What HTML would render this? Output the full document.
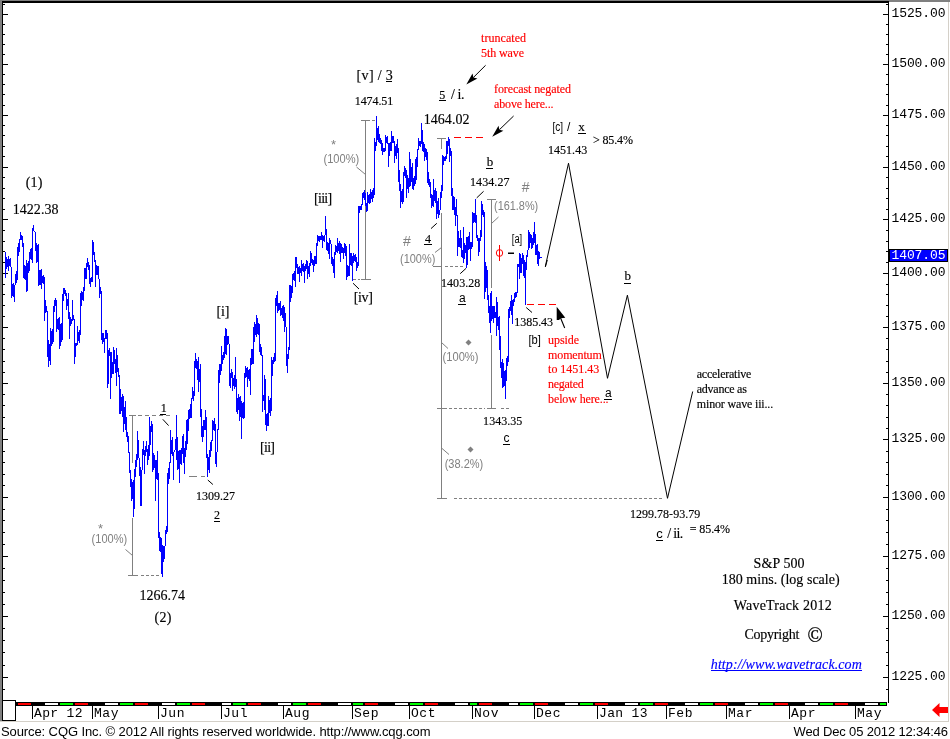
<!DOCTYPE html>
<html><head><meta charset="utf-8"><title>S&amp;P 500 - 180 mins</title>
<style>html,body{margin:0;padding:0;background:#fff}body{width:950px;height:739px;overflow:hidden}svg text{white-space:pre}</style>
</head><body>
<svg width="950" height="739" viewBox="0 0 950 739" style="display:block">
<rect x="0" y="0" width="950" height="739" fill="#fff"/>
<rect x="0" y="0" width="950" height="1" fill="#808080"/>
<rect x="0" y="1" width="889" height="2" fill="#000"/>
<rect x="889" y="1" width="61" height="1" fill="#808080"/>
<rect x="0" y="0" width="2" height="722" fill="#808080"/>
<rect x="2" y="1" width="1" height="720" fill="#000"/>
<rect x="888" y="2" width="1" height="701" fill="#000"/>
<rect x="948" y="2" width="1" height="720" fill="#d4d0c8"/>
<rect x="0" y="721" width="949" height="1" fill="#d4d0c8"/>
<rect x="2" y="700" width="14" height="1" fill="#000"/>
<rect x="15" y="700" width="1" height="21" fill="#000"/>
<rect x="2" y="720" width="14" height="1" fill="#000"/>
<rect x="16" y="702" width="871" height="4" fill="#000"/>
<rect x="3" y="4" width="2" height="1" fill="#000"/>
<rect x="886" y="4" width="2" height="1" fill="#000"/>
<rect x="3" y="14" width="5" height="1" fill="#000"/>
<rect x="883" y="14" width="5" height="1" fill="#000"/>
<text x="891.5" y="16.5" font-size="13" font-family='"Liberation Mono","Courier New",monospace' fill="#000" textLength="54" lengthAdjust="spacing" >1525.00</text>
<rect x="3" y="24" width="2" height="1" fill="#000"/>
<rect x="886" y="24" width="2" height="1" fill="#000"/>
<rect x="3" y="34" width="2" height="1" fill="#000"/>
<rect x="886" y="34" width="2" height="1" fill="#000"/>
<rect x="3" y="44" width="2" height="1" fill="#000"/>
<rect x="886" y="44" width="2" height="1" fill="#000"/>
<rect x="3" y="54" width="2" height="1" fill="#000"/>
<rect x="886" y="54" width="2" height="1" fill="#000"/>
<rect x="3" y="64" width="5" height="1" fill="#000"/>
<rect x="883" y="64" width="5" height="1" fill="#000"/>
<text x="891.5" y="66.5" font-size="13" font-family='"Liberation Mono","Courier New",monospace' fill="#000" textLength="54" lengthAdjust="spacing" >1500.00</text>
<rect x="3" y="74" width="2" height="1" fill="#000"/>
<rect x="886" y="74" width="2" height="1" fill="#000"/>
<rect x="3" y="84" width="2" height="1" fill="#000"/>
<rect x="886" y="84" width="2" height="1" fill="#000"/>
<rect x="3" y="94" width="2" height="1" fill="#000"/>
<rect x="886" y="94" width="2" height="1" fill="#000"/>
<rect x="3" y="105" width="2" height="1" fill="#000"/>
<rect x="886" y="105" width="2" height="1" fill="#000"/>
<rect x="3" y="115" width="5" height="1" fill="#000"/>
<rect x="883" y="115" width="5" height="1" fill="#000"/>
<text x="891.5" y="117.5" font-size="13" font-family='"Liberation Mono","Courier New",monospace' fill="#000" textLength="54" lengthAdjust="spacing" >1475.00</text>
<rect x="3" y="125" width="2" height="1" fill="#000"/>
<rect x="886" y="125" width="2" height="1" fill="#000"/>
<rect x="3" y="135" width="2" height="1" fill="#000"/>
<rect x="886" y="135" width="2" height="1" fill="#000"/>
<rect x="3" y="146" width="2" height="1" fill="#000"/>
<rect x="886" y="146" width="2" height="1" fill="#000"/>
<rect x="3" y="156" width="2" height="1" fill="#000"/>
<rect x="886" y="156" width="2" height="1" fill="#000"/>
<rect x="3" y="167" width="5" height="1" fill="#000"/>
<rect x="883" y="167" width="5" height="1" fill="#000"/>
<text x="891.5" y="169.5" font-size="13" font-family='"Liberation Mono","Courier New",monospace' fill="#000" textLength="54" lengthAdjust="spacing" >1450.00</text>
<rect x="3" y="177" width="2" height="1" fill="#000"/>
<rect x="886" y="177" width="2" height="1" fill="#000"/>
<rect x="3" y="188" width="2" height="1" fill="#000"/>
<rect x="886" y="188" width="2" height="1" fill="#000"/>
<rect x="3" y="198" width="2" height="1" fill="#000"/>
<rect x="886" y="198" width="2" height="1" fill="#000"/>
<rect x="3" y="209" width="2" height="1" fill="#000"/>
<rect x="886" y="209" width="2" height="1" fill="#000"/>
<rect x="3" y="219" width="5" height="1" fill="#000"/>
<rect x="883" y="219" width="5" height="1" fill="#000"/>
<text x="891.5" y="221.5" font-size="13" font-family='"Liberation Mono","Courier New",monospace' fill="#000" textLength="54" lengthAdjust="spacing" >1425.00</text>
<rect x="3" y="230" width="2" height="1" fill="#000"/>
<rect x="886" y="230" width="2" height="1" fill="#000"/>
<rect x="3" y="241" width="2" height="1" fill="#000"/>
<rect x="886" y="241" width="2" height="1" fill="#000"/>
<rect x="3" y="251" width="2" height="1" fill="#000"/>
<rect x="886" y="251" width="2" height="1" fill="#000"/>
<rect x="3" y="262" width="2" height="1" fill="#000"/>
<rect x="886" y="262" width="2" height="1" fill="#000"/>
<rect x="3" y="273" width="5" height="1" fill="#000"/>
<rect x="883" y="273" width="5" height="1" fill="#000"/>
<text x="891.5" y="275.5" font-size="13" font-family='"Liberation Mono","Courier New",monospace' fill="#000" textLength="54" lengthAdjust="spacing" >1400.00</text>
<rect x="3" y="284" width="2" height="1" fill="#000"/>
<rect x="886" y="284" width="2" height="1" fill="#000"/>
<rect x="3" y="294" width="2" height="1" fill="#000"/>
<rect x="886" y="294" width="2" height="1" fill="#000"/>
<rect x="3" y="305" width="2" height="1" fill="#000"/>
<rect x="886" y="305" width="2" height="1" fill="#000"/>
<rect x="3" y="316" width="2" height="1" fill="#000"/>
<rect x="886" y="316" width="2" height="1" fill="#000"/>
<rect x="3" y="327" width="5" height="1" fill="#000"/>
<rect x="883" y="327" width="5" height="1" fill="#000"/>
<text x="891.5" y="329.5" font-size="13" font-family='"Liberation Mono","Courier New",monospace' fill="#000" textLength="54" lengthAdjust="spacing" >1375.00</text>
<rect x="3" y="338" width="2" height="1" fill="#000"/>
<rect x="886" y="338" width="2" height="1" fill="#000"/>
<rect x="3" y="349" width="2" height="1" fill="#000"/>
<rect x="886" y="349" width="2" height="1" fill="#000"/>
<rect x="3" y="361" width="2" height="1" fill="#000"/>
<rect x="886" y="361" width="2" height="1" fill="#000"/>
<rect x="3" y="372" width="2" height="1" fill="#000"/>
<rect x="886" y="372" width="2" height="1" fill="#000"/>
<rect x="3" y="383" width="5" height="1" fill="#000"/>
<rect x="883" y="383" width="5" height="1" fill="#000"/>
<text x="891.5" y="385.5" font-size="13" font-family='"Liberation Mono","Courier New",monospace' fill="#000" textLength="54" lengthAdjust="spacing" >1350.00</text>
<rect x="3" y="394" width="2" height="1" fill="#000"/>
<rect x="886" y="394" width="2" height="1" fill="#000"/>
<rect x="3" y="405" width="2" height="1" fill="#000"/>
<rect x="886" y="405" width="2" height="1" fill="#000"/>
<rect x="3" y="417" width="2" height="1" fill="#000"/>
<rect x="886" y="417" width="2" height="1" fill="#000"/>
<rect x="3" y="428" width="2" height="1" fill="#000"/>
<rect x="886" y="428" width="2" height="1" fill="#000"/>
<rect x="3" y="439" width="5" height="1" fill="#000"/>
<rect x="883" y="439" width="5" height="1" fill="#000"/>
<text x="891.5" y="441.5" font-size="13" font-family='"Liberation Mono","Courier New",monospace' fill="#000" textLength="54" lengthAdjust="spacing" >1325.00</text>
<rect x="3" y="451" width="2" height="1" fill="#000"/>
<rect x="886" y="451" width="2" height="1" fill="#000"/>
<rect x="3" y="462" width="2" height="1" fill="#000"/>
<rect x="886" y="462" width="2" height="1" fill="#000"/>
<rect x="3" y="474" width="2" height="1" fill="#000"/>
<rect x="886" y="474" width="2" height="1" fill="#000"/>
<rect x="3" y="485" width="2" height="1" fill="#000"/>
<rect x="886" y="485" width="2" height="1" fill="#000"/>
<rect x="3" y="497" width="5" height="1" fill="#000"/>
<rect x="883" y="497" width="5" height="1" fill="#000"/>
<text x="891.5" y="499.5" font-size="13" font-family='"Liberation Mono","Courier New",monospace' fill="#000" textLength="54" lengthAdjust="spacing" >1300.00</text>
<rect x="3" y="509" width="2" height="1" fill="#000"/>
<rect x="886" y="509" width="2" height="1" fill="#000"/>
<rect x="3" y="520" width="2" height="1" fill="#000"/>
<rect x="886" y="520" width="2" height="1" fill="#000"/>
<rect x="3" y="532" width="2" height="1" fill="#000"/>
<rect x="886" y="532" width="2" height="1" fill="#000"/>
<rect x="3" y="544" width="2" height="1" fill="#000"/>
<rect x="886" y="544" width="2" height="1" fill="#000"/>
<rect x="3" y="556" width="5" height="1" fill="#000"/>
<rect x="883" y="556" width="5" height="1" fill="#000"/>
<text x="891.5" y="558.5" font-size="13" font-family='"Liberation Mono","Courier New",monospace' fill="#000" textLength="54" lengthAdjust="spacing" >1275.00</text>
<rect x="3" y="568" width="2" height="1" fill="#000"/>
<rect x="886" y="568" width="2" height="1" fill="#000"/>
<rect x="3" y="580" width="2" height="1" fill="#000"/>
<rect x="886" y="580" width="2" height="1" fill="#000"/>
<rect x="3" y="592" width="2" height="1" fill="#000"/>
<rect x="886" y="592" width="2" height="1" fill="#000"/>
<rect x="3" y="604" width="2" height="1" fill="#000"/>
<rect x="886" y="604" width="2" height="1" fill="#000"/>
<rect x="3" y="616" width="5" height="1" fill="#000"/>
<rect x="883" y="616" width="5" height="1" fill="#000"/>
<text x="891.5" y="618.5" font-size="13" font-family='"Liberation Mono","Courier New",monospace' fill="#000" textLength="54" lengthAdjust="spacing" >1250.00</text>
<rect x="3" y="628" width="2" height="1" fill="#000"/>
<rect x="886" y="628" width="2" height="1" fill="#000"/>
<rect x="3" y="640" width="2" height="1" fill="#000"/>
<rect x="886" y="640" width="2" height="1" fill="#000"/>
<rect x="3" y="652" width="2" height="1" fill="#000"/>
<rect x="886" y="652" width="2" height="1" fill="#000"/>
<rect x="3" y="665" width="2" height="1" fill="#000"/>
<rect x="886" y="665" width="2" height="1" fill="#000"/>
<rect x="3" y="677" width="5" height="1" fill="#000"/>
<rect x="883" y="677" width="5" height="1" fill="#000"/>
<text x="891.5" y="679.5" font-size="13" font-family='"Liberation Mono","Courier New",monospace' fill="#000" textLength="54" lengthAdjust="spacing" >1225.00</text>
<rect x="3" y="689" width="2" height="1" fill="#000"/>
<rect x="886" y="689" width="2" height="1" fill="#000"/>
<rect x="889" y="249" width="59" height="13" fill="#000"/>
<rect x="890" y="250" width="57" height="11" fill="#0000ff"/>
<text x="891.5" y="259" font-size="13" font-family='"Liberation Mono","Courier New",monospace' fill="#fff" textLength="54" lengthAdjust="spacing" >1407.05</text>
<rect x="18" y="703" width="13" height="2" fill="#ff0000"/>
<rect x="45" y="703" width="13" height="2" fill="#ffffff"/>
<rect x="60" y="703" width="13" height="2" fill="#00ff00"/>
<rect x="75" y="703" width="13" height="2" fill="#ff0000"/>
<rect x="105" y="703" width="13" height="2" fill="#ffffff"/>
<rect x="120" y="703" width="13" height="2" fill="#00ff00"/>
<rect x="135" y="703" width="13" height="2" fill="#ff0000"/>
<rect x="162" y="703" width="13" height="2" fill="#ffffff"/>
<rect x="177" y="703" width="13" height="2" fill="#00ff00"/>
<rect x="192" y="703" width="13" height="2" fill="#ff0000"/>
<rect x="222" y="703" width="9" height="2" fill="#ffffff"/>
<rect x="233" y="703" width="13" height="2" fill="#00ff00"/>
<rect x="248" y="703" width="13" height="2" fill="#ff0000"/>
<rect x="278" y="703" width="13" height="2" fill="#ffffff"/>
<rect x="293" y="703" width="13" height="2" fill="#00ff00"/>
<rect x="308" y="703" width="13" height="2" fill="#ff0000"/>
<rect x="338" y="703" width="13" height="2" fill="#ffffff"/>
<rect x="353" y="703" width="10" height="2" fill="#00ff00"/>
<rect x="365" y="703" width="13" height="2" fill="#ff0000"/>
<rect x="395" y="703" width="13" height="2" fill="#ffffff"/>
<rect x="410" y="703" width="13" height="2" fill="#00ff00"/>
<rect x="425" y="703" width="13" height="2" fill="#ff0000"/>
<rect x="455" y="703" width="13" height="2" fill="#ffffff"/>
<rect x="470" y="703" width="7" height="2" fill="#00ff00"/>
<rect x="479" y="703" width="13" height="2" fill="#ff0000"/>
<rect x="509" y="703" width="9" height="2" fill="#ffffff"/>
<rect x="520" y="703" width="13" height="2" fill="#00ff00"/>
<rect x="535" y="703" width="13" height="2" fill="#ff0000"/>
<rect x="565" y="703" width="13" height="2" fill="#ffffff"/>
<rect x="580" y="703" width="13" height="2" fill="#00ff00"/>
<rect x="595" y="703" width="13" height="2" fill="#ff0000"/>
<rect x="625" y="703" width="13" height="2" fill="#ffffff"/>
<rect x="640" y="703" width="13" height="2" fill="#00ff00"/>
<rect x="655" y="703" width="13" height="2" fill="#ff0000"/>
<rect x="685" y="703" width="13" height="2" fill="#ffffff"/>
<rect x="700" y="703" width="13" height="2" fill="#00ff00"/>
<rect x="715" y="703" width="13" height="2" fill="#ff0000"/>
<rect x="745" y="703" width="13" height="2" fill="#ffffff"/>
<rect x="760" y="703" width="13" height="2" fill="#00ff00"/>
<rect x="775" y="703" width="13" height="2" fill="#ff0000"/>
<rect x="805" y="703" width="13" height="2" fill="#ffffff"/>
<rect x="820" y="703" width="13" height="2" fill="#00ff00"/>
<rect x="835" y="703" width="13" height="2" fill="#ff0000"/>
<rect x="865" y="703" width="13" height="2" fill="#ffffff"/>
<rect x="880" y="703" width="6" height="2" fill="#00ff00"/>
<rect x="32" y="706" width="1" height="13" fill="#000"/>
<text x="34" y="717" font-size="13" font-family='"Liberation Mono","Courier New",monospace' fill="#000" textLength="48.5" lengthAdjust="spacing" >Apr 12</text>
<rect x="92" y="706" width="1" height="13" fill="#000"/>
<text x="94" y="717" font-size="13" font-family='"Liberation Mono","Courier New",monospace' fill="#000" textLength="24.5" lengthAdjust="spacing" >May</text>
<rect x="158" y="706" width="1" height="13" fill="#000"/>
<text x="160" y="717" font-size="13" font-family='"Liberation Mono","Courier New",monospace' fill="#000" textLength="24.5" lengthAdjust="spacing" >Jun</text>
<rect x="221" y="706" width="1" height="13" fill="#000"/>
<text x="223" y="717" font-size="13" font-family='"Liberation Mono","Courier New",monospace' fill="#000" textLength="24.5" lengthAdjust="spacing" >Jul</text>
<rect x="283" y="706" width="1" height="13" fill="#000"/>
<text x="285" y="717" font-size="13" font-family='"Liberation Mono","Courier New",monospace' fill="#000" textLength="24.5" lengthAdjust="spacing" >Aug</text>
<rect x="352" y="706" width="1" height="13" fill="#000"/>
<text x="354" y="717" font-size="13" font-family='"Liberation Mono","Courier New",monospace' fill="#000" textLength="24.5" lengthAdjust="spacing" >Sep</text>
<rect x="409" y="706" width="1" height="13" fill="#000"/>
<text x="411" y="717" font-size="13" font-family='"Liberation Mono","Courier New",monospace' fill="#000" textLength="24.5" lengthAdjust="spacing" >Oct</text>
<rect x="472" y="706" width="1" height="13" fill="#000"/>
<text x="474" y="717" font-size="13" font-family='"Liberation Mono","Courier New",monospace' fill="#000" textLength="24.5" lengthAdjust="spacing" >Nov</text>
<rect x="534" y="706" width="1" height="13" fill="#000"/>
<text x="536" y="717" font-size="13" font-family='"Liberation Mono","Courier New",monospace' fill="#000" textLength="24.5" lengthAdjust="spacing" >Dec</text>
<rect x="597" y="706" width="1" height="13" fill="#000"/>
<text x="599" y="717" font-size="13" font-family='"Liberation Mono","Courier New",monospace' fill="#000" textLength="48.5" lengthAdjust="spacing" >Jan 13</text>
<rect x="666" y="706" width="1" height="13" fill="#000"/>
<text x="668" y="717" font-size="13" font-family='"Liberation Mono","Courier New",monospace' fill="#000" textLength="24.5" lengthAdjust="spacing" >Feb</text>
<rect x="726" y="706" width="1" height="13" fill="#000"/>
<text x="728" y="717" font-size="13" font-family='"Liberation Mono","Courier New",monospace' fill="#000" textLength="24.5" lengthAdjust="spacing" >Mar</text>
<rect x="789" y="706" width="1" height="13" fill="#000"/>
<text x="791" y="717" font-size="13" font-family='"Liberation Mono","Courier New",monospace' fill="#000" textLength="24.5" lengthAdjust="spacing" >Apr</text>
<rect x="855" y="706" width="1" height="13" fill="#000"/>
<text x="857" y="717" font-size="13" font-family='"Liberation Mono","Courier New",monospace' fill="#000" textLength="24.5" lengthAdjust="spacing" >May</text>
<polygon points="932,710 939.5,703 939.5,707 948,707 948,713 939.5,713 939.5,717" fill="#ff0000"/>
<text x="1" y="736" font-size="13" font-family='"Liberation Sans",Arial,sans-serif' fill="#000" textLength="429.5" lengthAdjust="spacing" >Source: CQG Inc. © 2012 All rights reserved worldwide. http://www.cqg.com</text>
<text x="793.5" y="736" font-size="13" font-family='"Liberation Sans",Arial,sans-serif' fill="#000" textLength="154.5" lengthAdjust="spacing" >Wed Dec 05 2012 12:34:46</text>
<rect x="129" y="415" width="7" height="1" fill="#808080"/>
<rect x="132" y="415" width="1" height="48" fill="#808080"/>
<rect x="138" y="415" width="4" height="1" fill="#808080"/>
<rect x="145" y="415" width="4" height="1" fill="#808080"/>
<rect x="152" y="415" width="4" height="1" fill="#808080"/>
<rect x="159" y="415" width="4" height="1" fill="#808080"/>
<rect x="166" y="415" width="4" height="1" fill="#808080"/>
<rect x="132" y="518" width="1" height="58" fill="#808080"/>
<rect x="128" y="575" width="10" height="1" fill="#808080"/>
<rect x="141" y="575" width="3" height="1" fill="#808080"/>
<rect x="146" y="575" width="3" height="1" fill="#808080"/>
<rect x="151" y="575" width="3" height="1" fill="#808080"/>
<rect x="156" y="575" width="3" height="1" fill="#808080"/>
<line x1="125.5" y1="549.5" x2="132.5" y2="555.5" stroke="#808080" stroke-width="1" />
<rect x="189" y="476" width="8" height="1" fill="#808080"/>
<rect x="201" y="476" width="4" height="1" fill="#808080"/>
<rect x="361" y="120" width="9" height="1" fill="#808080"/>
<rect x="372" y="120" width="3" height="1" fill="#808080"/>
<rect x="365" y="120" width="1" height="160" fill="#808080"/>
<line x1="356.5" y1="167" x2="365.5" y2="174.5" stroke="#808080" stroke-width="1" />
<rect x="353" y="279" width="3" height="1" fill="#808080"/>
<rect x="358" y="279" width="2" height="1" fill="#808080"/>
<rect x="361" y="279" width="10" height="1" fill="#808080"/>
<rect x="437" y="138" width="9" height="1" fill="#808080"/>
<rect x="441" y="138" width="1" height="11" fill="#808080"/>
<rect x="441" y="213" width="1" height="286" fill="#808080"/>
<rect x="437" y="498" width="10" height="1" fill="#808080"/>
<rect x="454" y="498" width="3" height="1" fill="#808080"/>
<rect x="459" y="498" width="3" height="1" fill="#808080"/>
<rect x="464" y="498" width="3" height="1" fill="#808080"/>
<rect x="469" y="498" width="3" height="1" fill="#808080"/>
<rect x="474" y="498" width="3" height="1" fill="#808080"/>
<rect x="479" y="498" width="3" height="1" fill="#808080"/>
<rect x="484" y="498" width="3" height="1" fill="#808080"/>
<rect x="489" y="498" width="3" height="1" fill="#808080"/>
<rect x="494" y="498" width="3" height="1" fill="#808080"/>
<rect x="499" y="498" width="3" height="1" fill="#808080"/>
<rect x="504" y="498" width="3" height="1" fill="#808080"/>
<rect x="509" y="498" width="3" height="1" fill="#808080"/>
<rect x="514" y="498" width="3" height="1" fill="#808080"/>
<rect x="519" y="498" width="3" height="1" fill="#808080"/>
<rect x="524" y="498" width="3" height="1" fill="#808080"/>
<rect x="529" y="498" width="3" height="1" fill="#808080"/>
<rect x="534" y="498" width="3" height="1" fill="#808080"/>
<rect x="539" y="498" width="3" height="1" fill="#808080"/>
<rect x="544" y="498" width="3" height="1" fill="#808080"/>
<rect x="549" y="498" width="3" height="1" fill="#808080"/>
<rect x="554" y="498" width="3" height="1" fill="#808080"/>
<rect x="559" y="498" width="3" height="1" fill="#808080"/>
<rect x="564" y="498" width="3" height="1" fill="#808080"/>
<rect x="569" y="498" width="3" height="1" fill="#808080"/>
<rect x="574" y="498" width="3" height="1" fill="#808080"/>
<rect x="579" y="498" width="3" height="1" fill="#808080"/>
<rect x="584" y="498" width="3" height="1" fill="#808080"/>
<rect x="589" y="498" width="3" height="1" fill="#808080"/>
<rect x="594" y="498" width="3" height="1" fill="#808080"/>
<rect x="599" y="498" width="3" height="1" fill="#808080"/>
<rect x="604" y="498" width="3" height="1" fill="#808080"/>
<rect x="609" y="498" width="3" height="1" fill="#808080"/>
<rect x="614" y="498" width="3" height="1" fill="#808080"/>
<rect x="619" y="498" width="3" height="1" fill="#808080"/>
<rect x="624" y="498" width="3" height="1" fill="#808080"/>
<rect x="629" y="498" width="3" height="1" fill="#808080"/>
<rect x="634" y="498" width="3" height="1" fill="#808080"/>
<rect x="639" y="498" width="3" height="1" fill="#808080"/>
<rect x="644" y="498" width="3" height="1" fill="#808080"/>
<rect x="649" y="498" width="3" height="1" fill="#808080"/>
<rect x="654" y="498" width="3" height="1" fill="#808080"/>
<rect x="659" y="498" width="3" height="1" fill="#808080"/>
<rect x="433" y="266" width="9" height="1" fill="#808080"/>
<rect x="445" y="266" width="3" height="1" fill="#808080"/>
<rect x="450" y="266" width="3" height="1" fill="#808080"/>
<rect x="455" y="266" width="3" height="1" fill="#808080"/>
<rect x="460" y="266" width="3" height="1" fill="#808080"/>
<line x1="435" y1="252.5" x2="441.5" y2="247.5" stroke="#808080" stroke-width="1" />
<line x1="441.5" y1="342.5" x2="448" y2="348.5" stroke="#808080" stroke-width="1" />
<line x1="441.5" y1="448" x2="449" y2="454.5" stroke="#808080" stroke-width="1" />
<rect x="437" y="408" width="10" height="1" fill="#808080"/>
<rect x="449" y="408" width="3" height="1" fill="#808080"/>
<rect x="454" y="408" width="3" height="1" fill="#808080"/>
<rect x="459" y="408" width="3" height="1" fill="#808080"/>
<rect x="464" y="408" width="3" height="1" fill="#808080"/>
<rect x="469" y="408" width="3" height="1" fill="#808080"/>
<rect x="474" y="408" width="3" height="1" fill="#808080"/>
<rect x="479" y="408" width="3" height="1" fill="#808080"/>
<rect x="484" y="408" width="1" height="1" fill="#808080"/>
<rect x="487" y="199" width="9" height="1" fill="#808080"/>
<rect x="491" y="199" width="1" height="89" fill="#808080"/>
<rect x="491" y="335" width="1" height="74" fill="#808080"/>
<rect x="487" y="408" width="9" height="1" fill="#808080"/>
<rect x="501" y="408" width="3" height="1" fill="#808080"/>
<rect x="506" y="408" width="3" height="1" fill="#808080"/>
<line x1="498.5" y1="217" x2="491.5" y2="223.5" stroke="#808080" stroke-width="1" />
<polygon points="465.5,342.5 468.5,339.5 471.5,342.5 468.5,345.5" fill="#808080"/>
<polygon points="467.5,449.5 470.5,446.5 473.5,449.5 470.5,452.5" fill="#808080"/>
<text x="331" y="148.5" font-size="13" font-family='"Liberation Sans",Arial,sans-serif' fill="#808080" >*</text>
<text x="323.5" y="163.3" font-size="12" font-family='"Liberation Sans",Arial,sans-serif' fill="#808080" textLength="35.8" lengthAdjust="spacingAndGlyphs" >(100%)</text>
<text x="98" y="532.5" font-size="13" font-family='"Liberation Sans",Arial,sans-serif' fill="#808080" >*</text>
<text x="91.6" y="542.5" font-size="12" font-family='"Liberation Sans",Arial,sans-serif' fill="#808080" textLength="35.6" lengthAdjust="spacingAndGlyphs" >(100%)</text>
<text x="403" y="246.3" font-size="14" font-family='"Liberation Sans",Arial,sans-serif' fill="#808080" >#</text>
<text x="400" y="262.5" font-size="12" font-family='"Liberation Sans",Arial,sans-serif' fill="#808080" textLength="35.3" lengthAdjust="spacingAndGlyphs" >(100%)</text>
<text x="521.8" y="191.8" font-size="14" font-family='"Liberation Sans",Arial,sans-serif' fill="#808080" >#</text>
<text x="494" y="210" font-size="12" font-family='"Liberation Sans",Arial,sans-serif' fill="#808080" textLength="44.2" lengthAdjust="spacingAndGlyphs" >(161.8%)</text>
<text x="442.6" y="360.5" font-size="12" font-family='"Liberation Sans",Arial,sans-serif' fill="#808080" textLength="35.8" lengthAdjust="spacingAndGlyphs" >(100%)</text>
<text x="444.7" y="467.5" font-size="12" font-family='"Liberation Sans",Arial,sans-serif' fill="#808080" textLength="38.6" lengthAdjust="spacingAndGlyphs" >(38.2%)</text>
<path d="M5 252v26h1v-26zM6 257v12h1v-12zM7 259v8h1v-8zM8 256v15h1v-15zM9 259v7h1v-7zM10 258v9h1v-9zM11 267v31h1v-31zM12 284v12h1v-12zM13 283v14h1v-14zM14 285v17h1v-17zM15 274v11h1v-11zM16 271v12h1v-12zM17 247v33h1v-33zM18 243v13h1v-13zM19 239v13h1v-13zM20 232v8h1v-8zM21 235v5h1v-5zM22 236v11h1v-11zM23 243v35h1v-35zM24 265v14h1v-14zM25 266v14h1v-14zM26 260v32h1v-32zM27 263v28h1v-28zM28 261v12h1v-12zM29 252v19h1v-19zM30 249v10h1v-10zM31 248v12h1v-12zM32 228v35h1v-35zM33 225v6h1v-6zM34 231v1h1v-1zM35 232v19h1v-19zM36 243v20h1v-20zM37 245v17h1v-17zM38 244v42h1v-42zM39 270v15h1v-15zM40 270v15h1v-15zM41 269v20h1v-20zM42 276v7h1v-7zM43 275v9h1v-9zM44 277v44h1v-44zM45 300v13h1v-13zM46 306v6h1v-6zM47 311v46h1v-46zM48 340v27h1v-27zM49 344v17h1v-17zM50 328v37h1v-37zM51 331v15h1v-15zM52 329v15h1v-15zM53 306v36h1v-36zM54 300v12h1v-12zM55 298v8h1v-8zM56 300v32h1v-32zM57 319v10h1v-10zM58 318v12h1v-12zM59 317v32h1v-32zM60 324v22h1v-22zM61 323v19h1v-19zM62 294v46h1v-46zM63 288v13h1v-13zM64 288v6h1v-6zM65 290v6h1v-6zM66 293v17h1v-17zM67 299v7h1v-7zM68 293v26h1v-26zM69 312v27h1v-27zM70 317v9h1v-9zM71 319v5h1v-5zM72 300v21h1v-21zM73 315v5h1v-5zM74 319v45h1v-45zM75 343v14h1v-14zM76 343v3h1v-3zM77 326v19h1v-19zM78 332v9h1v-9zM79 330v13h1v-13zM80 293v42h1v-42zM81 291v15h1v-15zM82 292v8h1v-8zM83 287v14h1v-14zM84 268v23h1v-23zM85 268v11h1v-11zM86 263v16h1v-16zM87 258v9h1v-9zM88 262v8h1v-8zM89 265v19h1v-19zM90 278v9h1v-9zM91 277v5h1v-5zM92 240v42h1v-42zM93 242v13h1v-13zM94 252v10h1v-10zM95 260v27h1v-27zM96 265v10h1v-10zM97 266v9h1v-9zM98 266v13h1v-13zM99 279v19h1v-19zM100 287v7h1v-7zM101 291v49h1v-49zM102 333v11h1v-11zM103 333v9h1v-9zM104 338v15h1v-15zM105 330v9h1v-9zM106 330v9h1v-9zM107 333v55h1v-55zM108 350v34h1v-34zM109 348v8h1v-8zM110 352v47h1v-47zM111 352v26h1v-26zM112 362v12h1v-12zM113 347v27h1v-27zM114 350v14h1v-14zM115 359v14h1v-14zM116 348v38h1v-38zM117 355v17h1v-17zM118 368v9h1v-9zM119 375v39h1v-39zM120 389v25h1v-25zM121 397v14h1v-14zM122 394v23h1v-23zM123 396v36h1v-36zM124 407v17h1v-17zM125 401v29h1v-29zM126 417v20h1v-20zM127 432v10h1v-10zM128 436v17h1v-17zM129 452v21h1v-21zM130 470v17h1v-17zM131 479v22h1v-22zM132 482v17h1v-17zM133 480v37h1v-37zM134 469v40h1v-40zM135 460v17h1v-17zM136 454v13h1v-13zM137 431v29h1v-29zM138 440v18h1v-18zM139 458v18h1v-18zM140 467v39h1v-39zM141 470v36h1v-36zM142 449v21h1v-21zM143 441v14h1v-14zM144 450v24h1v-24zM145 446v10h1v-10zM146 441v11h1v-11zM147 449v16h1v-16zM148 445v15h1v-15zM149 417v39h1v-39zM150 426v19h1v-19zM151 421v11h1v-11zM152 424v48h1v-48zM153 453v17h1v-17zM154 455v13h1v-13zM155 460v41h1v-41zM156 460v19h1v-19zM157 451v29h1v-29zM158 473v65h1v-65zM159 532v19h1v-19zM160 537v15h1v-15zM161 538v36h1v-36zM162 545v32h1v-32zM163 546v16h1v-16zM164 546v13h1v-13zM165 530v16h1v-16zM166 526v8h1v-8zM167 473v59h1v-59zM168 468v16h1v-16zM169 462v17h1v-17zM170 430v33h1v-33zM171 440v14h1v-14zM172 437v19h1v-19zM173 452v28h1v-28zM174 450v2h1v-2zM175 439v11h1v-11zM176 415v45h1v-45zM177 437v33h1v-33zM178 451v18h1v-18zM179 450v33h1v-33zM180 450v14h1v-14zM181 448v17h1v-17zM182 436v18h1v-18zM183 434v29h1v-29zM184 448v26h1v-26zM185 441v16h1v-16zM186 420v30h1v-30zM187 419v25h1v-25zM188 410v21h1v-21zM189 409v10h1v-10zM190 404v14h1v-14zM191 398v20h1v-20zM192 387v12h1v-12zM193 391v10h1v-10zM194 361v35h1v-35zM195 353v15h1v-15zM196 359v10h1v-10zM197 361v19h1v-19zM198 357v35h1v-35zM199 369v13h1v-13zM200 364v53h1v-53zM201 409v28h1v-28zM202 426v16h1v-16zM203 420v17h1v-17zM204 420v10h1v-10zM205 410v20h1v-20zM206 417v41h1v-41zM207 454v23h1v-23zM208 457v13h1v-13zM209 450v23h1v-23zM210 442v15h1v-15zM211 440v11h1v-11zM212 420v21h1v-21zM213 421v9h1v-9zM214 418v13h1v-13zM215 424v40h1v-40zM216 452v15h1v-15zM217 429v23h1v-23zM218 370v60h1v-60zM219 364v19h1v-19zM220 364v11h1v-11zM221 346v25h1v-25zM222 355v9h1v-9zM223 352v8h1v-8zM224 336v22h1v-22zM225 328v26h1v-26zM226 329v26h1v-26zM227 336v9h1v-9zM228 336v8h1v-8zM229 344v42h1v-42zM230 373v15h1v-15zM231 369v9h1v-9zM232 372v19h1v-19zM233 378v8h1v-8zM234 375v14h1v-14zM235 357v30h1v-30zM236 379v33h1v-33zM237 398v16h1v-16zM238 394v16h1v-16zM239 397v24h1v-24zM240 396v21h1v-21zM241 401v38h1v-38zM242 403v15h1v-15zM243 402v17h1v-17zM244 373v45h1v-45zM245 366v12h1v-12zM246 368v9h1v-9zM247 367v20h1v-20zM248 370v9h1v-9zM249 369v12h1v-12zM250 358v37h1v-37zM251 349v16h1v-16zM252 349v15h1v-15zM253 327v37h1v-37zM254 322v20h1v-20zM255 324v11h1v-11zM256 315v22h1v-22zM257 318v16h1v-16zM258 323v12h1v-12zM259 324v28h1v-28zM260 344v11h1v-11zM261 347v9h1v-9zM262 355v57h1v-57zM263 395v6h1v-6zM264 375v35h1v-35zM265 379v46h1v-46zM266 414v17h1v-17zM267 413v13h1v-13zM268 396v30h1v-30zM269 400v13h1v-13zM270 398v18h1v-18zM271 357v54h1v-54zM272 360v16h1v-16zM273 357v7h1v-7zM274 353v9h1v-9zM275 298v63h1v-63zM276 295v11h1v-11zM277 291v22h1v-22zM278 303v8h1v-8zM279 303v7h1v-7zM280 301v15h1v-15zM281 308v7h1v-7zM282 306v12h1v-12zM283 305v16h1v-16zM284 307v25h1v-25zM285 313v14h1v-14zM286 327v39h1v-39zM287 354v19h1v-19zM288 347v12h1v-12zM289 285v65h1v-65zM290 285v17h1v-17zM291 286v12h1v-12zM292 274v19h1v-19zM293 273v7h1v-7zM294 271v10h1v-10zM295 257v30h1v-30zM296 257v11h1v-11zM297 264v10h1v-10zM298 267v7h1v-7zM299 266v16h1v-16zM300 268v5h1v-5zM301 260v16h1v-16zM302 264v7h1v-7zM303 263v9h1v-9zM304 266v17h1v-17zM305 264v7h1v-7zM306 260v9h1v-9zM307 261v18h1v-18zM308 266v8h1v-8zM309 263v14h1v-14zM310 251v15h1v-15zM311 253v10h1v-10zM312 259v6h1v-6zM313 260v12h1v-12zM314 256v10h1v-10zM315 256v8h1v-8zM316 243v21h1v-21zM317 235v11h1v-11zM318 236v5h1v-5zM319 236v6h1v-6zM320 236v4h1v-4zM321 232v8h1v-8zM322 235v13h1v-13zM323 236v5h1v-5zM324 235v7h1v-7zM325 216v19h1v-19zM326 229v21h1v-21zM327 242v9h1v-9zM328 243v11h1v-11zM329 238v21h1v-21zM330 240v4h1v-4zM331 244v20h1v-20zM332 257v9h1v-9zM333 259v14h1v-14zM334 252v26h1v-26zM335 245v10h1v-10zM336 246v6h1v-6zM337 238v15h1v-15zM338 243v8h1v-8zM339 241v13h1v-13zM340 243v19h1v-19zM341 244v9h1v-9zM342 247v6h1v-6zM343 248v11h1v-11zM344 243v10h1v-10zM345 244v12h1v-12zM346 246v34h1v-34zM347 265v12h1v-12zM348 266v10h1v-10zM349 244v32h1v-32zM350 253v12h1v-12zM351 253v13h1v-13zM352 256v25h1v-25zM353 253v10h1v-10zM354 255v6h1v-6zM355 254v8h1v-8zM356 257v14h1v-14zM357 262v6h1v-6zM358 206v60h1v-60zM359 206v7h1v-7zM360 206v4h1v-4zM361 204v6h1v-6zM362 193v12h1v-12zM363 192v6h1v-6zM364 190v10h1v-10zM365 193v13h1v-13zM366 203v9h1v-9zM367 192v19h1v-19zM368 195v8h1v-8zM369 194v10h1v-10zM370 189v14h1v-14zM371 192v7h1v-7zM372 190v12h1v-12zM373 188v10h1v-10zM374 138v57h1v-57zM375 142v9h1v-9zM376 116v30h1v-30zM377 128v12h1v-12zM378 126v16h1v-16zM379 134v9h1v-9zM380 138v6h1v-6zM381 140v11h1v-11zM382 143v12h1v-12zM383 148v4h1v-4zM384 148v4h1v-4zM385 135v16h1v-16zM386 137v6h1v-6zM387 136v8h1v-8zM388 143v24h1v-24zM389 143v13h1v-13zM390 142v9h1v-9zM391 131v20h1v-20zM392 136v7h1v-7zM393 136v7h1v-7zM394 141v22h1v-22zM395 146v10h1v-10zM396 144v15h1v-15zM397 139v14h1v-14zM398 148v34h1v-34zM399 170v21h1v-21zM400 184v24h1v-24zM401 191v11h1v-11zM402 189v15h1v-15zM403 172v30h1v-30zM404 166v10h1v-10zM405 168v10h1v-10zM406 170v28h1v-28zM407 175v14h1v-14zM408 178v15h1v-15zM409 152v35h1v-35zM410 159v27h1v-27zM411 167v15h1v-15zM412 163v26h1v-26zM413 178v12h1v-12zM414 176v10h1v-10zM415 159v25h1v-25zM416 157v23h1v-23zM417 149v18h1v-18zM418 138v12h1v-12zM419 141v5h1v-5zM420 141v6h1v-6zM421 123v21h1v-21zM422 130v21h1v-21zM423 142v10h1v-10zM424 144v17h1v-17zM425 148v9h1v-9zM426 149v11h1v-11zM427 152v31h1v-31zM428 172v13h1v-13zM429 179v8h1v-8zM430 182v16h1v-16zM431 194v14h1v-14zM432 195v11h1v-11zM433 179v28h1v-28zM434 190v11h1v-11zM435 188v15h1v-15zM436 191v28h1v-28zM437 201v13h1v-13zM438 198v20h1v-20zM439 210v5h1v-5zM440 192v18h1v-18zM441 185v13h1v-13zM442 155v36h1v-36zM443 156v9h1v-9zM444 157v4h1v-4zM445 156v5h1v-5zM446 141v18h1v-18zM447 141v13h1v-13zM448 137v9h1v-9zM449 139v23h1v-23zM450 148v8h1v-8zM451 151v45h1v-45zM452 188v22h1v-22zM453 196v14h1v-14zM454 197v18h1v-18zM455 207v19h1v-19zM456 199v17h1v-17zM457 215v41h1v-41zM458 231v16h1v-16zM459 238v9h1v-9zM460 230v18h1v-18zM461 238v19h1v-19zM462 250v8h1v-8zM463 227v36h1v-36zM464 243v16h1v-16zM465 245v8h1v-8zM466 237v31h1v-31zM467 237v28h1v-28zM468 236v14h1v-14zM469 232v17h1v-17zM470 242v19h1v-19zM471 242v7h1v-7zM472 212v35h1v-35zM473 213v10h1v-10zM474 213v9h1v-9zM475 199v24h1v-24zM476 215v23h1v-23zM477 235v6h1v-6zM478 238v18h1v-18zM479 238v14h1v-14zM480 230v11h1v-11zM481 201v36h1v-36zM482 204v11h1v-11zM483 210v7h1v-7zM484 212v87h1v-87zM485 262v30h1v-30zM486 266v22h1v-22zM487 270v30h1v-30zM488 295v18h1v-18zM489 306v17h1v-17zM490 293v40h1v-40zM491 291v30h1v-30zM492 306v13h1v-13zM493 306v17h1v-17zM494 306v12h1v-12zM495 312v6h1v-6zM496 297v39h1v-39zM497 302v24h1v-24zM498 317v13h1v-13zM499 316v34h1v-34zM500 336v32h1v-32zM501 362v16h1v-16zM502 359v29h1v-29zM503 363v24h1v-24zM504 371v15h1v-15zM505 370v29h1v-29zM506 358v23h1v-23zM507 356v10h1v-10zM508 309v53h1v-53zM509 307v11h1v-11zM510 301v10h1v-10zM511 295v20h1v-20zM512 300v24h1v-24zM513 299v7h1v-7zM514 293v9h1v-9zM515 292v6h1v-6zM516 292v5h1v-5zM517 264v29h1v-29zM518 264v3h1v-3zM519 253v26h1v-26zM520 254v19h1v-19zM521 258v15h1v-15zM522 253v11h1v-11zM523 255v21h1v-21zM524 260v18h1v-18zM525 262v43h1v-43zM526 255v15h1v-15zM527 250v7h1v-7zM528 230v20h1v-20zM529 232v16h1v-16zM530 234v9h1v-9zM531 235v14h1v-14zM532 238v10h1v-10zM533 232v13h1v-13zM534 222v21h1v-21zM535 234v21h1v-21zM536 245v10h1v-10zM537 244v20h1v-20zM538 251v15h1v-15zM539 252v7h1v-7zM540 257v1h1v-1zM541 257v1h1v-1z" fill="#0000ff" shape-rendering="crispEdges"/>
<polyline points="545.3,266.5 568.5,163.2 607.5,378.3 627.4,295.2 667.5,498.3 692.7,391.5" fill="none" stroke="#000" stroke-width="1"/>
<rect x="454" y="137" width="7" height="1" fill="#ff0000"/>
<rect x="465" y="137" width="7" height="1" fill="#ff0000"/>
<rect x="476" y="137" width="7" height="1" fill="#ff0000"/>
<rect x="527" y="304" width="7" height="1" fill="#ff0000"/>
<rect x="538" y="304" width="7" height="1" fill="#ff0000"/>
<rect x="549" y="304" width="7" height="1" fill="#ff0000"/>
<line x1="485.6" y1="65.3" x2="473.3710678118655" y2="77.52893218813452" stroke="#000" stroke-width="1" />
<polygon points="466.3,84.6 472.5,73.5 473.4,77.5 477.4,78.4" fill="#000"/>
<line x1="513.6" y1="116" x2="499.3876455320053" y2="129.7474643685743" stroke="#000" stroke-width="1" />
<polygon points="492.2,136.7 498.5,125.7 499.4,129.7 503.4,130.7" fill="#000"/>
<polygon points="556.7,306.7 556.7,320 559,320 560.8,318.2 565.3,317.8" fill="#000"/>
<line x1="560.6" y1="318" x2="564.7" y2="328" stroke="#000" stroke-width="1.1" />
<line x1="162.8" y1="419.3" x2="168.6" y2="425.6" stroke="#000" stroke-width="1" />
<line x1="207.8" y1="480" x2="212.9" y2="484.5" stroke="#000" stroke-width="1" />
<line x1="353" y1="283.2" x2="359" y2="289" stroke="#000" stroke-width="1" />
<line x1="431" y1="228.6" x2="436.8" y2="223.3" stroke="#000" stroke-width="1" />
<line x1="483.6" y1="191.3" x2="476.7" y2="197.9" stroke="#000" stroke-width="1" />
<line x1="466.1" y1="268.3" x2="460.2" y2="273.7" stroke="#000" stroke-width="1" />
<line x1="526.2" y1="307.5" x2="532" y2="312.5" stroke="#000" stroke-width="1" />
<line x1="547.3" y1="260" x2="545.4" y2="266.9" stroke="#000" stroke-width="1" />
<rect x="508" y="252.5" width="6" height="1.5" fill="#000"/>
<ellipse cx="499.5" cy="253" rx="3.2" ry="3.4" fill="none" stroke="#ff0000" stroke-width="1"/>
<rect x="499" y="245" width="1" height="16" fill="#ff0000"/>
<text x="25.8" y="186.6" font-size="14" font-family='"Liberation Serif","Times New Roman",serif' fill="#000" textLength="16.6" lengthAdjust="spacing" stroke="#000" stroke-width="0.15" >(1)</text>
<text x="12.7" y="213.7" font-size="14" font-family='"Liberation Serif","Times New Roman",serif' fill="#000" textLength="45.8" lengthAdjust="spacing" stroke="#000" stroke-width="0.15" >1422.38</text>
<text x="216.6" y="315.6" font-size="14" font-family='"Liberation Serif","Times New Roman",serif' fill="#000" textLength="12.8" lengthAdjust="spacing" stroke="#000" stroke-width="0.15" >[i]</text>
<text x="160.7" y="412.4" font-size="12" font-family='"Liberation Serif","Times New Roman",serif' fill="#000" stroke="#000" stroke-width="0.15" >1</text>
<rect x="160" y="414" width="6" height="1" fill="#000"/>
<text x="196.1" y="499.7" font-size="12" font-family='"Liberation Serif","Times New Roman",serif' fill="#000" textLength="39.0" lengthAdjust="spacing" stroke="#000" stroke-width="0.15" >1309.27</text>
<text x="214.1" y="519" font-size="12" font-family='"Liberation Serif","Times New Roman",serif' fill="#000" stroke="#000" stroke-width="0.15" >2</text>
<rect x="214" y="521" width="6" height="1" fill="#000"/>
<text x="139.5" y="599.9" font-size="14" font-family='"Liberation Serif","Times New Roman",serif' fill="#000" textLength="45.5" lengthAdjust="spacing" stroke="#000" stroke-width="0.15" >1266.74</text>
<text x="154.6" y="621.9" font-size="14" font-family='"Liberation Serif","Times New Roman",serif' fill="#000" textLength="16.9" lengthAdjust="spacing" stroke="#000" stroke-width="0.15" >(2)</text>
<text x="260" y="452" font-size="14" font-family='"Liberation Serif","Times New Roman",serif' fill="#000" textLength="15" lengthAdjust="spacing" stroke="#000" stroke-width="0.15" >[ii]</text>
<text x="314.1" y="202.6" font-size="14" font-family='"Liberation Serif","Times New Roman",serif' fill="#000" textLength="18" lengthAdjust="spacing" stroke="#000" stroke-width="0.15" >[iii]</text>
<text x="353.8" y="301.5" font-size="14" font-family='"Liberation Serif","Times New Roman",serif' fill="#000" textLength="19" lengthAdjust="spacing" stroke="#000" stroke-width="0.15" >[iv]</text>
<text x="356.5" y="79.6" font-size="14" font-family='"Liberation Serif","Times New Roman",serif' fill="#000" textLength="29" lengthAdjust="spacing" stroke="#000" stroke-width="0.15" >[v] / </text>
<text x="385.8" y="79.6" font-size="14" font-family='"Liberation Serif","Times New Roman",serif' fill="#000" stroke="#000" stroke-width="0.15" >3</text>
<rect x="386" y="81" width="6" height="1" fill="#000"/>
<text x="354.8" y="104.9" font-size="12" font-family='"Liberation Serif","Times New Roman",serif' fill="#000" textLength="38.4" lengthAdjust="spacing" stroke="#000" stroke-width="0.15" >1474.51</text>
<text x="439.2" y="98.6" font-size="12" font-family='"Liberation Serif","Times New Roman",serif' fill="#000" stroke="#000" stroke-width="0.15" >5</text>
<rect x="439" y="100" width="7" height="1" fill="#000"/>
<text x="451" y="98.6" font-size="14" font-family='"Liberation Serif","Times New Roman",serif' fill="#000" textLength="13.5" lengthAdjust="spacing" stroke="#000" stroke-width="0.15" >/ i.</text>
<text x="423.7" y="123.6" font-size="14" font-family='"Liberation Serif","Times New Roman",serif' fill="#000" textLength="45.8" lengthAdjust="spacing" stroke="#000" stroke-width="0.15" >1464.02</text>
<text x="486.8" y="165.7" font-size="13" font-family='"Liberation Serif","Times New Roman",serif' fill="#000" stroke="#000" stroke-width="0.15" >b</text>
<rect x="486" y="168" width="7" height="1" fill="#000"/>
<text x="470.0" y="186" font-size="12" font-family='"Liberation Serif","Times New Roman",serif' fill="#000" textLength="39.5" lengthAdjust="spacing" stroke="#000" stroke-width="0.15" >1434.27</text>
<text x="425" y="242.8" font-size="12" font-family='"Liberation Serif","Times New Roman",serif' fill="#000" stroke="#000" stroke-width="0.15" >4</text>
<rect x="424" y="244" width="8" height="1" fill="#000"/>
<text x="441.0" y="287" font-size="12" font-family='"Liberation Serif","Times New Roman",serif' fill="#000" textLength="39.3" lengthAdjust="spacing" stroke="#000" stroke-width="0.15" >1403.28</text>
<text x="459" y="301.6" font-size="12" font-family='"Liberation Sans",Arial,sans-serif' fill="#000" >a</text>
<rect x="458" y="304" width="8" height="1" fill="#000"/>
<text x="511.8" y="243.3" font-size="12" font-family='"Liberation Sans",Arial,sans-serif' fill="#000" textLength="10.4" lengthAdjust="spacingAndGlyphs" >[a]</text>
<text x="514.2" y="325.7" font-size="12" font-family='"Liberation Serif","Times New Roman",serif' fill="#000" textLength="38.9" lengthAdjust="spacing" stroke="#000" stroke-width="0.15" >1385.43</text>
<text x="528.5" y="343.5" font-size="12" font-family='"Liberation Sans",Arial,sans-serif' fill="#000" textLength="12.4" lengthAdjust="spacingAndGlyphs" >[b]</text>
<text x="483.1" y="424.6" font-size="12" font-family='"Liberation Serif","Times New Roman",serif' fill="#000" textLength="39.2" lengthAdjust="spacing" stroke="#000" stroke-width="0.15" >1343.35</text>
<text x="503.6" y="441.6" font-size="12" font-family='"Liberation Sans",Arial,sans-serif' fill="#000" >c</text>
<rect x="503" y="444" width="7" height="1" fill="#000"/>
<text x="552.4" y="131.4" font-size="12" font-family='"Liberation Sans",Arial,sans-serif' fill="#000" textLength="10.6" lengthAdjust="spacingAndGlyphs" >[c]</text>
<text x="567" y="131.4" font-size="12" font-family='"Liberation Sans",Arial,sans-serif' fill="#000" >/</text>
<text x="578.3" y="131.4" font-size="13" font-family='"Liberation Serif","Times New Roman",serif' fill="#000" stroke="#000" stroke-width="0.15" >x</text>
<rect x="578" y="133" width="8" height="1" fill="#000"/>
<text x="547.9" y="153.5" font-size="12" font-family='"Liberation Serif","Times New Roman",serif' fill="#000" textLength="39.3" lengthAdjust="spacing" stroke="#000" stroke-width="0.15" >1451.43</text>
<text x="592.9" y="143.6" font-size="12" font-family='"Liberation Serif","Times New Roman",serif' fill="#000" textLength="40.1" lengthAdjust="spacing" stroke="#000" stroke-width="0.15" >&gt; 85.4%</text>
<text x="624.4" y="280.2" font-size="13" font-family='"Liberation Serif","Times New Roman",serif' fill="#000" stroke="#000" stroke-width="0.15" >b</text>
<rect x="624" y="283" width="7" height="1" fill="#000"/>
<text x="605" y="396.7" font-size="12" font-family='"Liberation Sans",Arial,sans-serif' fill="#000" >a</text>
<rect x="604" y="399" width="8" height="1" fill="#000"/>
<text x="696.8" y="377.8" font-size="12" font-family='"Liberation Serif","Times New Roman",serif' fill="#000" textLength="54.5" lengthAdjust="spacing" stroke="#000" stroke-width="0.15" >accelerative</text>
<text x="696.8" y="392.7" font-size="12" font-family='"Liberation Serif","Times New Roman",serif' fill="#000" textLength="50" lengthAdjust="spacing" stroke="#000" stroke-width="0.15" >advance as</text>
<text x="696.8" y="407.8" font-size="12" font-family='"Liberation Serif","Times New Roman",serif' fill="#000" textLength="76.4" lengthAdjust="spacing" stroke="#000" stroke-width="0.15" >minor wave iii...</text>
<text x="630.0" y="517.6" font-size="12" font-family='"Liberation Serif","Times New Roman",serif' fill="#000" textLength="70.2" lengthAdjust="spacing" stroke="#000" stroke-width="0.15" >1299.78-93.79</text>
<text x="656.3" y="538.3" font-size="13" font-family='"Liberation Sans",Arial,sans-serif' fill="#000" >c</text>
<rect x="656" y="540" width="7" height="1" fill="#000"/>
<text x="667.3" y="538.3" font-size="14" font-family='"Liberation Serif","Times New Roman",serif' fill="#000" textLength="16" lengthAdjust="spacing" stroke="#000" stroke-width="0.15" >/ ii.</text>
<text x="689.7" y="532.6" font-size="12" font-family='"Liberation Serif","Times New Roman",serif' fill="#000" textLength="40.3" lengthAdjust="spacing" stroke="#000" stroke-width="0.15" >= 85.4%</text>
<text x="753.6" y="567.5" font-size="14" font-family='"Liberation Serif","Times New Roman",serif' fill="#000" textLength="51" lengthAdjust="spacing" stroke="#000" stroke-width="0.15" >S&amp;P 500</text>
<text x="721.7" y="583.7" font-size="14" font-family='"Liberation Serif","Times New Roman",serif' fill="#000" textLength="118" lengthAdjust="spacing" stroke="#000" stroke-width="0.15" >180 mins. (log scale)</text>
<text x="733.7" y="610.4" font-size="14" font-family='"Liberation Serif","Times New Roman",serif' fill="#000" textLength="98" lengthAdjust="spacing" stroke="#000" stroke-width="0.15" >WaveTrack 2012</text>
<text x="744.4" y="638.8" font-size="14" font-family='"Liberation Serif","Times New Roman",serif' fill="#000" textLength="55" lengthAdjust="spacing" stroke="#000" stroke-width="0.15" >Copyright</text>
<text x="807.5" y="641.5" font-size="20" font-family='"Liberation Serif","Times New Roman",serif' fill="#000" stroke="#000" stroke-width="0.3">©</text>
<text x="710.8" y="668.5" font-size="14" font-family='"Liberation Serif","Times New Roman",serif' fill="#0000ff" textLength="151" lengthAdjust="spacing" style="font-style:italic" stroke="#0000ff" stroke-width="0.15" >http://www.wavetrack.com</text>
<rect x="711" y="670" width="151" height="1" fill="#0000ff"/>
<text x="481" y="41.8" font-size="12" font-family='"Liberation Serif","Times New Roman",serif' fill="#ff0000" textLength="45" lengthAdjust="spacing" stroke="#ff0000" stroke-width="0.15" >truncated</text>
<text x="481" y="56.6" font-size="12" font-family='"Liberation Serif","Times New Roman",serif' fill="#ff0000" textLength="43" lengthAdjust="spacing" stroke="#ff0000" stroke-width="0.15" >5th wave</text>
<text x="494" y="92.5" font-size="12" font-family='"Liberation Serif","Times New Roman",serif' fill="#ff0000" textLength="77" lengthAdjust="spacing" stroke="#ff0000" stroke-width="0.15" >forecast negated</text>
<text x="494" y="107.5" font-size="12" font-family='"Liberation Serif","Times New Roman",serif' fill="#ff0000" textLength="59.5" lengthAdjust="spacing" stroke="#ff0000" stroke-width="0.15" >above here...</text>
<text x="548.1" y="343.5" font-size="12" font-family='"Liberation Serif","Times New Roman",serif' fill="#ff0000" textLength="31" lengthAdjust="spacing" stroke="#ff0000" stroke-width="0.15" >upside</text>
<text x="548.1" y="358.5" font-size="12" font-family='"Liberation Serif","Times New Roman",serif' fill="#ff0000" textLength="53.7" lengthAdjust="spacing" stroke="#ff0000" stroke-width="0.15" >momentum</text>
<text x="548.1" y="373.3" font-size="12" font-family='"Liberation Serif","Times New Roman",serif' fill="#ff0000" textLength="51.1" lengthAdjust="spacing" stroke="#ff0000" stroke-width="0.15" >to 1451.43</text>
<text x="548.1" y="388.2" font-size="12" font-family='"Liberation Serif","Times New Roman",serif' fill="#ff0000" textLength="35.6" lengthAdjust="spacing" stroke="#ff0000" stroke-width="0.15" >negated</text>
<text x="548.1" y="403.3" font-size="12" font-family='"Liberation Serif","Times New Roman",serif' fill="#ff0000" textLength="60.4" lengthAdjust="spacing" stroke="#ff0000" stroke-width="0.15" >below here...</text>
</svg>
</body></html>
